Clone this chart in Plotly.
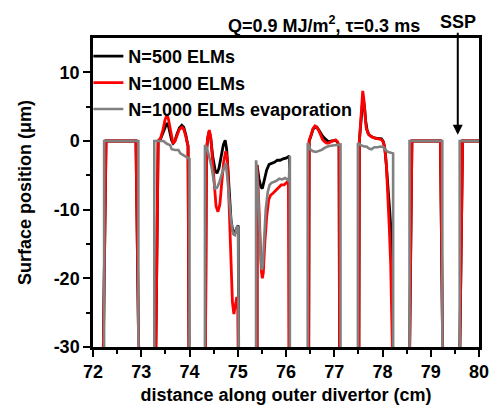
import plotly.graph_objects as go

# Surface position (um) along the outer divertor (cm); None separates the tiles.
n500_x = [
    72.21, 72.27, 72.89, 72.95, None,
    73.30, 73.35, 73.40, 73.45, 73.49, 73.53, 73.56, 73.60, 73.63, 73.66, 73.70, 73.74, 73.79, 73.84, 73.88, 73.92, 73.95, 73.97, 73.99, None,
    74.33, 74.35, 74.38, 74.41, 74.44, 74.48, 74.53, 74.57, 74.61, 74.66, 74.70, 74.74, 74.77, 74.80, 74.83, 74.86, 74.89, 74.93, 74.97, 75.01, 75.02, None,
    75.40, 75.40, 75.44, 75.48, 75.51, 75.55, 75.60, 75.65, 75.70, 75.76, 75.82, 75.88, 75.94, 76.00, 76.05, 76.07, 76.07, None,
    76.47, 76.48, 76.52, 76.56, 76.60, 76.64, 76.68, 76.72, 76.76, 76.80, 76.84, 76.88, 76.93, 76.98, 77.03, 77.07, 77.10, 77.11, None,
    77.51, 77.52, 77.55, 77.57, 77.59, 77.61, 77.63, 77.65, 77.68, 77.72, 77.78, 77.85, 77.92, 77.98, 78.02, 78.05, 78.08, 78.12, 78.15, 78.18, 78.20, 78.21, None,
    78.56, 78.61, 79.20, 79.25, None,
    79.60, 79.66, 80.20,
]
n500_y = [
    -32, 0, 0, -32, None,
    -32, 0, 0.3, 1.1, 2.0, 2.6, 2.3, 1.1, 0.1, -0.3, 0.1, 1.0, 1.9, 2.3, 2.0, 1.0, 0.1, -0.8, -32, None,
    -32, -1.5, 0.5, 1.4, 0.4, -2.2, -4.2, -4.7, -4.0, -2.0, -0.6, 0.1, -1.2, -4.5, -8.5, -11.5, -12.8, -13.7, -12.8, -12.3, -32, None,
    -32, -3.5, -5.5, -6.7, -6.9, -5.8, -4.2, -3.4, -3.3, -3.1, -2.8, -2.8, -2.6, -2.5, -2.3, -2.2, -32, None,
    -32, 0, 0.8, 1.7, 2.0, 2.0, 1.6, 1.1, 0.7, 0.4, 0.1, -0.1, 0.0, 0.1, 0.1, -0.2, -0.8, -32, None,
    -32, 0, 2.5, 5.0, 6.0, 5.8, 4.8, 3.0, 1.6, 0.9, 0.6, 0.4, 0.4, 0.3, -0.1, -1.2, -3.5, -7.5, -10.5, -13.2, -17, -32, None,
    -32, 0, 0, -32, None,
    -32, 0, 0,
]

n1000_x = [
    72.21, 72.27, 72.89, 72.95, None,
    73.30, 73.35, 73.40, 73.45, 73.49, 73.53, 73.56, 73.60, 73.63, 73.66, 73.70, 73.74, 73.79, 73.84, 73.88, 73.92, 73.95, 73.97, 73.99, None,
    74.33, 74.35, 74.38, 74.41, 74.44, 74.47, 74.51, 74.55, 74.59, 74.63, 74.67, 74.71, 74.75, 74.78, 74.80, 74.82, 74.84, 74.86, 74.89, 74.92, 74.95, 74.98, 75.00, 75.01, None,
    75.40, 75.40, 75.43, 75.46, 75.49, 75.51, 75.53, 75.56, 75.60, 75.64, 75.68, 75.73, 75.78, 75.84, 75.90, 75.96, 76.02, 76.05, 76.06, None,
    76.47, 76.48, 76.52, 76.56, 76.60, 76.64, 76.68, 76.72, 76.76, 76.80, 76.84, 76.88, 76.93, 76.98, 77.03, 77.07, 77.10, 77.11, None,
    77.51, 77.52, 77.55, 77.57, 77.59, 77.61, 77.63, 77.66, 77.70, 77.75, 77.81, 77.87, 77.93, 77.98, 78.02, 78.05, 78.08, 78.11, 78.14, 78.17, 78.19, 78.21, 78.21, None,
    78.56, 78.61, 79.20, 79.25, None,
    79.60, 79.66, 80.20,
]
n1000_y = [
    -32, 0, 0, -32, None,
    -32, 0, 0.4, 1.6, 3.0, 3.8, 3.3, 1.6, 0.2, -0.4, 0.0, 0.9, 1.7, 2.0, 1.7, 0.8, 0.0, -0.8, -32, None,
    -32, -1.5, 0.6, 1.6, 0.6, -2.5, -6.5, -9.5, -10.3, -9.2, -6.0, -3.0, -1.5, -2.5, -5.0, -9.0, -14.0, -19.0, -23.5, -25.2, -24.0, -22.7, -24.5, -32, None,
    -32, -3.5, -8.0, -14.0, -19.0, -20.0, -19.2, -15.0, -11.0, -8.6, -7.9, -7.6, -7.2, -6.8, -6.4, -6.4, -6.0, -6.3, -32, None,
    -32, 0, 0.9, 1.8, 2.2, 2.0, 1.5, 0.8, 0.2, -0.1, -0.3, -0.3, -0.1, 0.05, 0.15, -0.1, -0.8, -32, None,
    -32, 0, 3.0, 6.0, 7.3, 6.3, 3.8, 2.0, 1.1, 0.7, 0.5, 0.4, 0.3, 0.2, -0.2, -1.2, -3.5, -7.5, -12.5, -18.0, -23.0, -28.0, -32, None,
    -32, 0, 0, -32, None,
    -32, 0, 0,
]

evap_x = [
    72.23, 72.23, 72.94, 72.94, None,
    73.27, 73.27, 73.46, 73.53, 73.60, 73.63, 73.70, 73.77, 73.81, 73.86, 73.91, 73.98, 74.00, 74.00, None,
    74.32, 74.32, 74.36, 74.41, 74.45, 74.49, 74.53, 74.57, 74.62, 74.67, 74.71, 74.75, 74.78, 74.82, 74.86, 74.90, 74.94, 74.98, 75.01, 75.02, None,
    75.38, 75.38, 75.42, 75.45, 75.48, 75.50, 75.52, 75.55, 75.58, 75.62, 75.66, 75.70, 75.75, 75.80, 75.86, 75.92, 75.98, 76.03, 76.06, 76.08, 76.08, None,
    76.45, 76.45, 76.50, 76.56, 76.62, 76.68, 76.74, 76.80, 76.86, 76.93, 77.00, 77.07, 77.13, 77.13, None,
    77.49, 77.49, 77.55, 77.62, 77.67, 77.72, 77.77, 77.83, 77.90, 77.96, 78.02, 78.07, 78.12, 78.18, 78.22, 78.22, None,
    78.56, 78.56, 79.24, 79.24, None,
    79.60, 79.60, 80.20,
]
evap_y = [
    -32, 0, 0, -32, None,
    -32, 0, 0, -0.4, -0.6, -1.2, -1.3, -1.3, -1.8, -2.0, -2.3, -2.5, -2.6, -32, None,
    -32, -0.6, -1.0, -2.2, -3.5, -5.2, -6.9, -6.8, -6.0, -4.8, -3.8, -3.2, -5.0, -8.5, -11.5, -13.5, -13.7, -12.6, -12.4, -32, None,
    -32, -2.8, -7.0, -13.0, -17.5, -18.8, -18.0, -14.0, -10.0, -7.5, -6.4, -6.1, -6.0, -5.8, -5.5, -5.6, -5.4, -5.6, -5.9, -2.2, -32, None,
    -32, -0.3, -1.2, -1.5, -1.6, -1.5, -1.3, -1.0, -0.8, -0.7, -0.6, -0.5, -0.5, -32, None,
    -32, -0.3, -0.6, -0.8, -0.8, -1.1, -1.2, -0.9, -0.9, -0.8, -0.9, -1.4, -1.6, -1.7, -1.8, -32, None,
    -32, 0, 0, -32, None,
    -32, 0, 0,
]

y_tick_vals = [-30, -20, -10, 0, 10]
y_tick_text = ["-30", "-20", "-10", "0", "10"]
x_tick_vals = [72, 73, 74, 75, 76, 77, 78, 79, 80]

FONT = "Liberation Sans, Arial, sans-serif"

fig = go.Figure()
fig.add_trace(go.Scatter(x=n500_x, y=n500_y, mode="lines", name="N=500 ELMs",
                         line=dict(color="#000000", width=2.8)))
fig.add_trace(go.Scatter(x=n1000_x, y=n1000_y, mode="lines", name="N=1000 ELMs",
                         line=dict(color="#ff0000", width=2.8)))
fig.add_trace(go.Scatter(x=evap_x, y=evap_y, mode="lines", name="N=1000 ELMs evaporation",
                         line=dict(color="#808080", width=2.6)))

axis_common = dict(
    showline=True, linecolor="black", linewidth=2.5, mirror=True,
    showgrid=False, zeroline=False,
    ticks="outside", ticklen=7, tickwidth=2, tickcolor="black",
    tickfont=dict(family=FONT, size=18, color="black", weight="bold"),
)

fig.update_xaxes(
    range=[72, 80], tickvals=x_tick_vals,
    minor=dict(dtick=0.5, ticks="outside", ticklen=4, tickwidth=2, tickcolor="black"),
    title=dict(text="distance along outer divertor (cm)", standoff=14,
               font=dict(family=FONT, size=18, color="black", weight="bold")),
    **axis_common,
)
fig.update_yaxes(
    range=[-30, 15], tickvals=y_tick_vals, ticktext=y_tick_text,
    minor=dict(tickvals=[-25, -15, -5, 5], ticks="outside", ticklen=4, tickwidth=2, tickcolor="black"),
    title=dict(text="Surface position (μm)", standoff=18,
               font=dict(family=FONT, size=18, color="black", weight="bold")),
    **axis_common,
)

fig.add_annotation(
    x=0.598, y=1.045, xref="paper", yref="paper", showarrow=False,
    text="Q=0.9 MJ/m<sup>2</sup>, τ=0.3 ms",
    font=dict(family=FONT, size=18, color="black", weight="bold"),
    xanchor="center", yanchor="middle",
)
# Strike-point label with its arrow pointing down onto the tile surface
fig.add_annotation(
    x=79.56, y=0.9, xref="x", yref="y",
    ax=79.56, ay=17.3, axref="x", ayref="y",
    text="SSP", font=dict(family=FONT, size=18, color="black", weight="bold"),
    showarrow=True, arrowhead=2, arrowsize=1.0, arrowwidth=2, arrowcolor="black",
    borderpad=0,
)

fig.update_layout(
    width=496, height=405,
    margin=dict(l=93, r=17, t=38, b=58, autoexpand=False),
    paper_bgcolor="white", plot_bgcolor="white",
    showlegend=True,
    legend=dict(
        x=-0.012, y=1.0, xanchor="left", yanchor="top",
        bgcolor="rgba(0,0,0,0)", borderwidth=0,
        font=dict(family=FONT, size=18, color="black", weight="bold"),
        tracegroupgap=0,
    ),
)

fig.write_html("out.html")
